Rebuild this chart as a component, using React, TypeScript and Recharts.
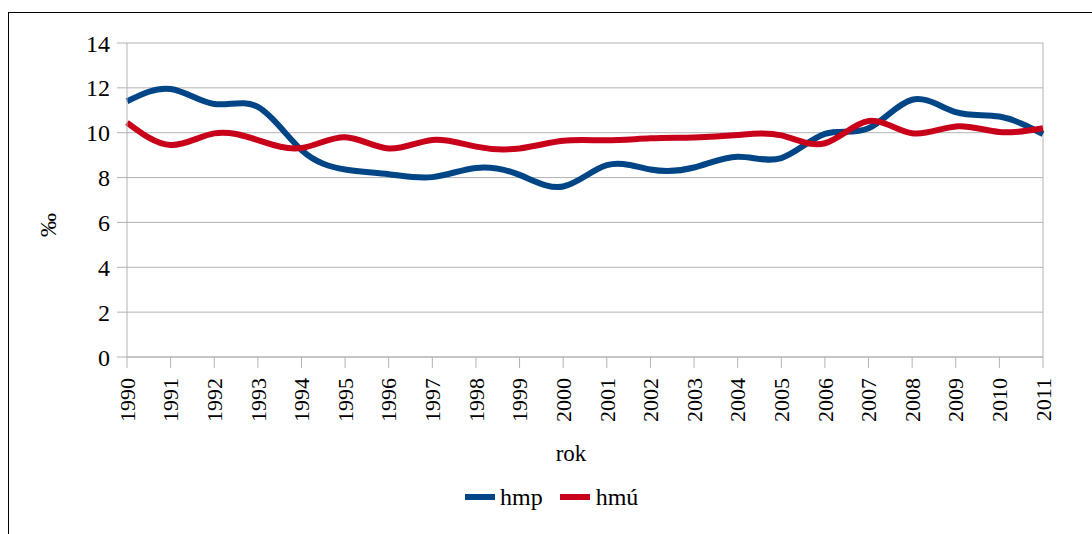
import React from 'react';
import { LineChart, Line, XAxis, YAxis, CartesianGrid, ReferenceLine } from 'recharts';

const years = [1990, 1991, 1992, 1993, 1994, 1995, 1996, 1997, 1998, 1999, 2000, 2001, 2002, 2003, 2004, 2005, 2006, 2007, 2008, 2009, 2010, 2011];
const hmp = [11.4, 11.95, 11.28, 11.15, 9.23, 8.36, 8.15, 8.02, 8.43, 8.12, 7.6, 8.55, 8.36, 8.45, 8.93, 8.87, 9.95, 10.2, 11.47, 10.92, 10.72, 9.94];
const hmu = [10.45, 9.45, 9.97, 9.67, 9.32, 9.8, 9.3, 9.68, 9.38, 9.3, 9.64, 9.66, 9.75, 9.79, 9.9, 9.88, 9.53, 10.52, 9.98, 10.28, 10.03, 10.2];
const yTicks = [0, 2, 4, 6, 8, 10, 12, 14];
const seriesNames = ['hmp', 'hmú'];
const colors = ['#004586', '#c8001a'];

const data = years.map((y, i) => ({ year: String(y), hmp: hmp[i], hmu: hmu[i] }));

const FONT = '"Liberation Serif", "DejaVu Serif", serif';

const XTick = (props: any) => {
  const { x, y, payload } = props;
  return (
    <g transform={`translate(${x},${y})`}>
      <text transform="rotate(-90)" textAnchor="end" dy="0.35em" fontSize={22} fontFamily={FONT} fill="#000">
        {payload.value}
      </text>
    </g>
  );
};

export default function App() {
  return (
    <div style={{ position: 'relative', width: 1092, height: 534, overflow: 'hidden', background: '#fff' }}>
      <style>{`body{margin:0;overflow:hidden;}`}</style>
      <div style={{ position: 'absolute', left: 8, top: 12, width: 1200, height: 700, border: '1.5px solid #000', boxSizing: 'border-box' }} />
      <div style={{ position: 'absolute', left: 0, top: 0 }}>
        <LineChart width={1092} height={534} data={data} margin={{ top: 43, right: 49, left: 43, bottom: 97 }}>
          <CartesianGrid vertical={false} stroke="#b3b3b3" strokeWidth={1} />
          <XAxis
            dataKey="year"
            height={80}
            interval={0}
            tick={<XTick />}
            tickSize={11}
            tickMargin={10}
            stroke="#b3b3b3"
            tickLine={{ stroke: '#b3b3b3' }}
            label={{
              content: (p: any) => (
                <text x={571} y={461} textAnchor="middle" fontSize={23} fontFamily={FONT} fill="#000">rok</text>
              ),
            }}
          />
          <YAxis
            width={84}
            domain={[0, 14]}
            ticks={yTicks}
            interval={0}
            tickSize={10}
            tickMargin={7}
            stroke="#b3b3b3"
            tickLine={{ stroke: '#b3b3b3' }}
            tick={{ fontSize: 24, fontFamily: FONT, fill: '#000' }}
            label={{
              content: (p: any) => (
                <text x={0} y={0} transform="translate(56,225) rotate(-90)" textAnchor="middle" fontSize={24} fontFamily={FONT} fill="#000">‰</text>
              ),
            }}
          />
          <ReferenceLine x="2011" stroke="#b3b3b3" strokeWidth={1} />
          <Line type="natural" dataKey="hmp" name={seriesNames[0]} stroke={colors[0]} strokeWidth={6} dot={false} isAnimationActive={false} />
          <Line type="natural" dataKey="hmu" name={seriesNames[1]} stroke={colors[1]} strokeWidth={6} dot={false} isAnimationActive={false} />
        </LineChart>
      </div>
      <div style={{ position: 'absolute', left: 465, top: 483, display: 'flex', alignItems: 'center', fontFamily: FONT, fontSize: 24, color: '#000', lineHeight: '28px' }}>
        <span style={{ display: 'inline-block', width: 30, height: 6, background: colors[0], marginRight: 5 }} />
        <span>{seriesNames[0]}</span>
        <span style={{ display: 'inline-block', width: 30, height: 6, background: colors[1], marginLeft: 17, marginRight: 6 }} />
        <span>{seriesNames[1]}</span>
      </div>
    </div>
  );
}
